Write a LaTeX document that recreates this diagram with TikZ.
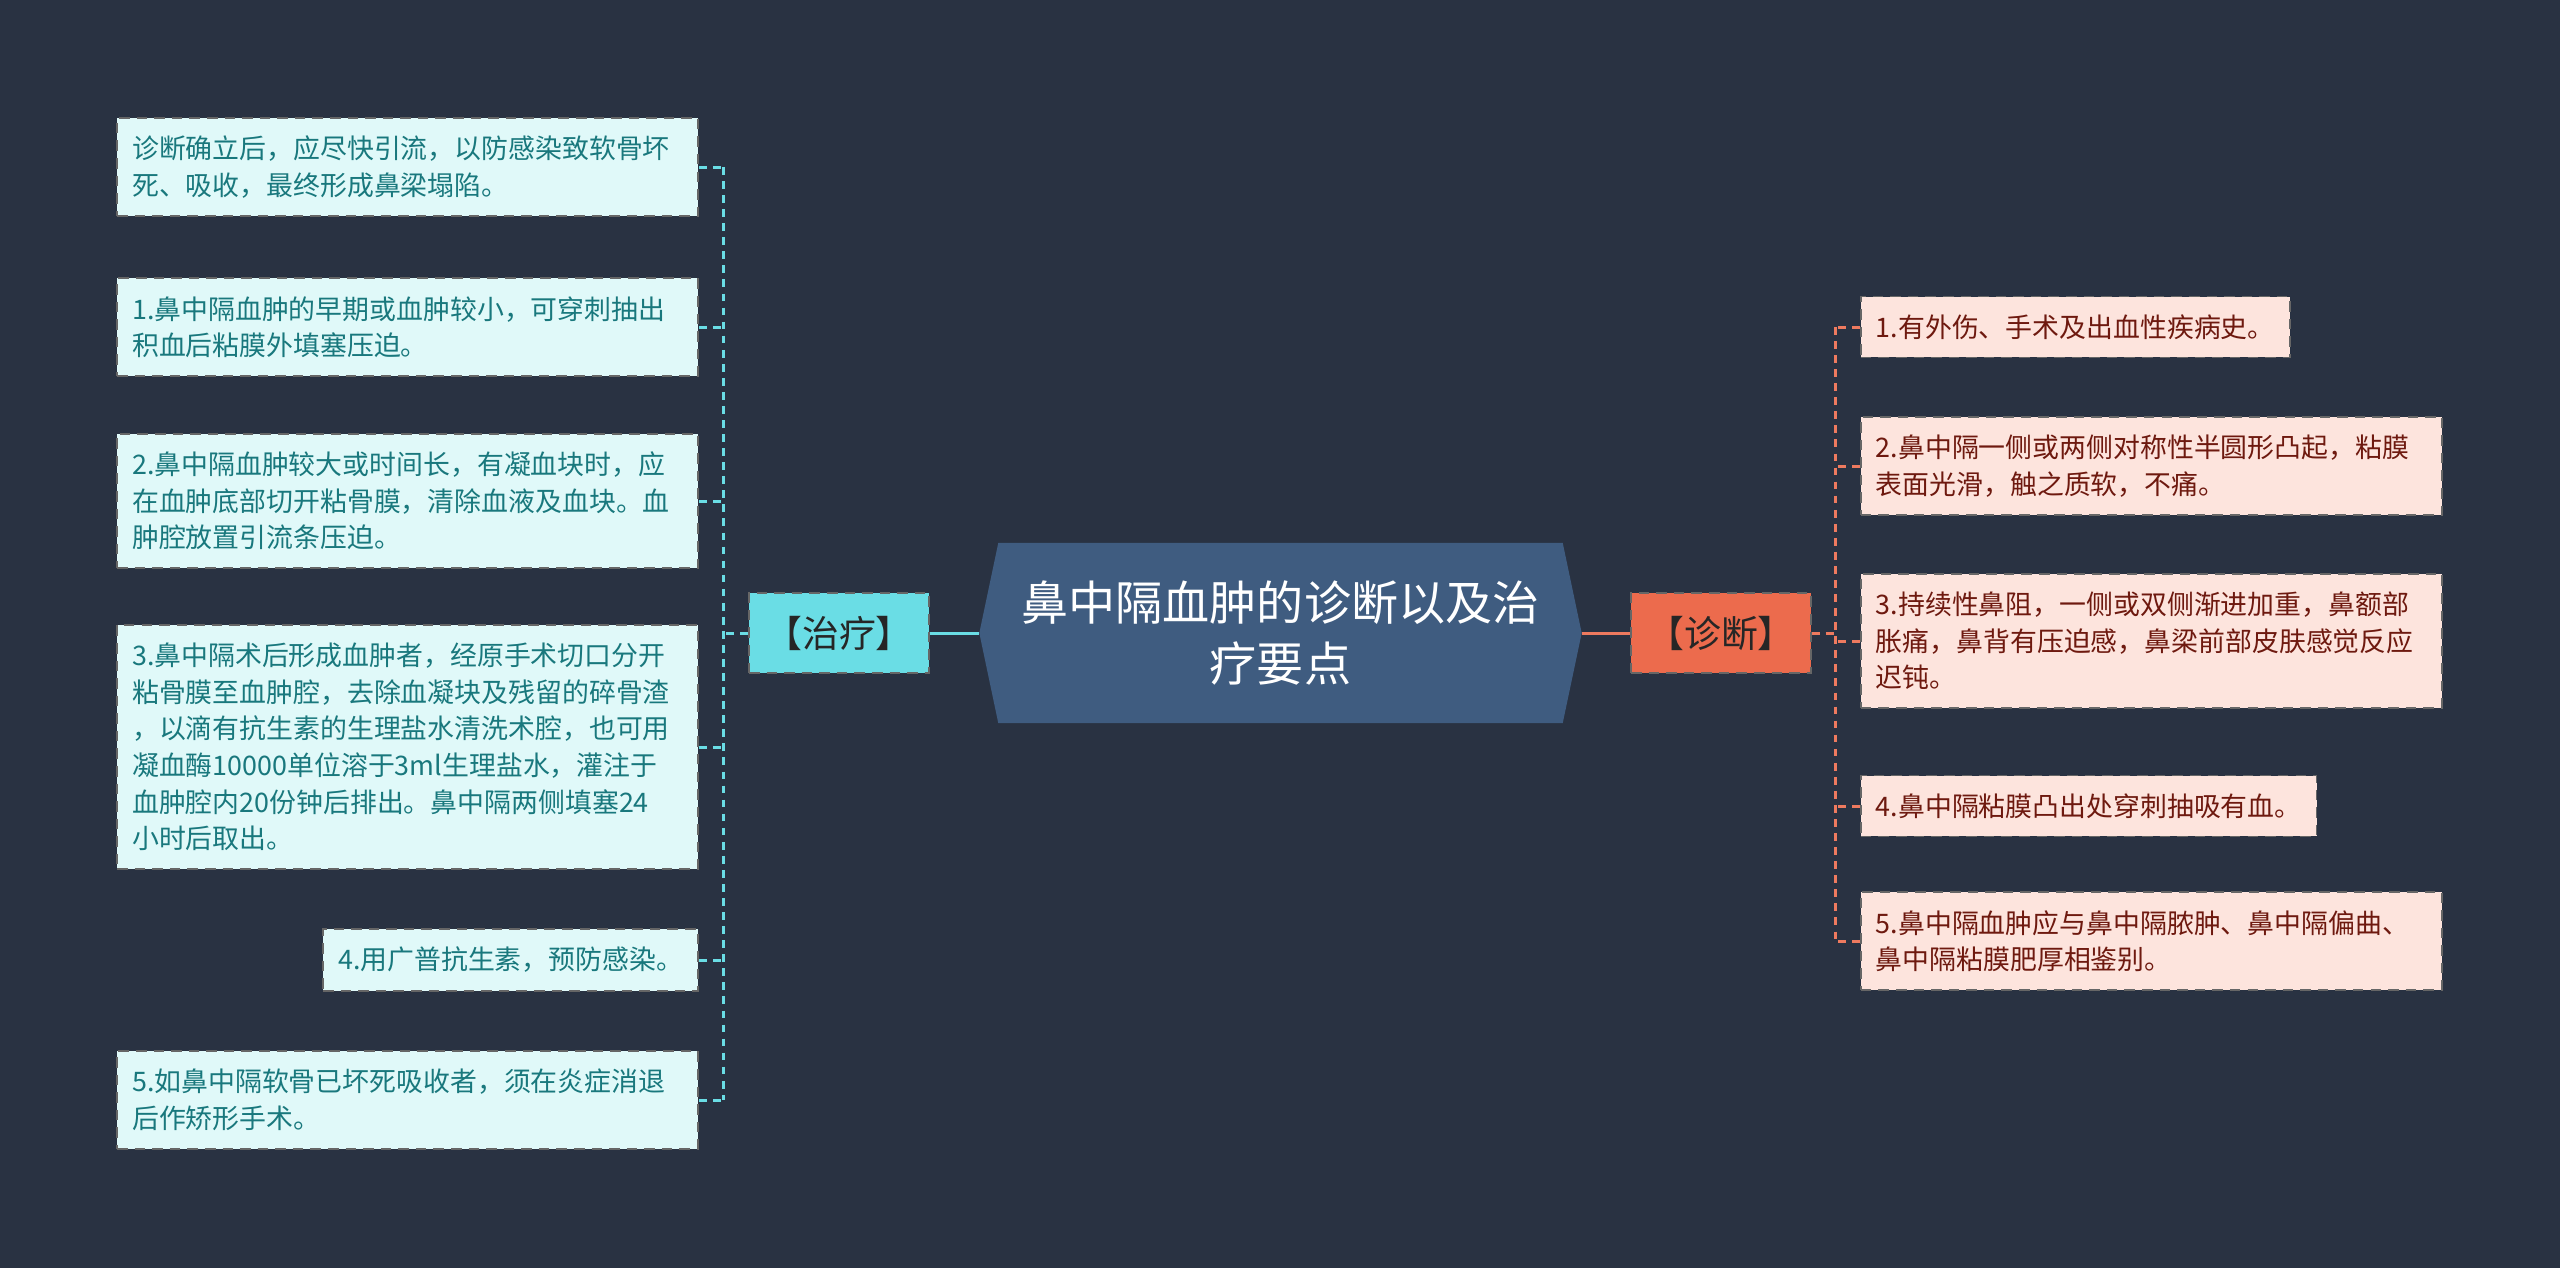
\documentclass[tikz,border=0pt]{standalone}
\usepackage{fontspec}
\usepackage{tikz}
\usetikzlibrary{calc,positioning,backgrounds}
\newfontfamily\cjk{Noto Sans CJK SC}
\definecolor{bgcol}{RGB}{41,50,66}
\definecolor{hubcol}{RGB}{63,92,128}
\definecolor{curecol}{RGB}{106,221,229}
\definecolor{curelight}{RGB}{224,249,249}
\definecolor{curetext}{RGB}{25,120,125}
\definecolor{diagcol}{RGB}{236,107,77}
\definecolor{diaglight}{RGB}{253,228,221}
\definecolor{diagtext}{RGB}{110,25,15}
\tikzset{
  hub/.style     ={rectangle, text=white, align=center,
                   minimum width=56.3mm, minimum height=17.9mm,
                   font=\cjk\fontsize{13.4}{17.6}\selectfont},
  branch/.style  ={rectangle, draw=black!60, densely dashed, line width=0.5pt,
                   minimum width=18mm, minimum height=8mm, text=black!85,
                   font=\cjk\fontsize{10.5}{12}\selectfont},
  cure/.style    ={branch, fill=curecol},
  diag/.style    ={branch, fill=diagcol},
  leaf/.style    ={rectangle, draw=black!60, densely dashed, line width=0.5pt,
                   align=left, inner xsep=1.5mm, inner ysep=1.8mm,
                   font=\cjk\fontsize{7.65}{10.4}\selectfont},
  wide/.style    ={text width=55.1mm},
  cureleaf/.style={leaf, fill=curelight, text=curetext, anchor=east},
  diagleaf/.style={leaf, fill=diaglight, text=diagtext, anchor=west},
  cureline/.style={draw=curecol, line width=0.85pt},
  diagline/.style={draw=diagcol!90!white, line width=0.85pt},
  curetick/.style={cureline, dash pattern=on 2.2pt off 1.8pt},
  diagtick/.style={diagline, dash pattern=on 2.2pt off 1.8pt},
}
\begin{document}
\begin{tikzpicture}[x=0.1mm, y=-0.1mm]
    \useasboundingbox (0,0) rectangle (2560,1268);

    % centre
    \node[hub] (hub) at (1280.5,633) {鼻中隔血肿的诊断以及治\\疗要点};
    \coordinate (hubL) at ($(hub.west)+(-19,0)$);
    \coordinate (hubR) at ($(hub.east)+(19,0)$);
    \begin{scope}[on background layer]
      \fill[bgcol] (0,0) rectangle (2560,1268);
      \fill[hubcol] (hub.north west) -- (hubL) -- (hub.south west)
        -- (hub.south east) -- (hubR) -- (hub.north east) -- cycle;
    \end{scope}

    % branches
    \node[cure] (cure) at (839,633) {【治疗】};
    \node[diag] (diag) at (1721,633) {【诊断】};
    \coordinate (spineL) at (723,633);
    \coordinate (spineR) at (1835,633);

    % left leaves
    \node[cureleaf, wide] (l0) at (699,167) {诊断确立后，应尽快引流，以防感染致软骨坏\\死、吸收，最终形成鼻梁塌陷。};
    \node[cureleaf, wide] (l1) at (699,327) {1.鼻中隔血肿的早期或血肿较小，可穿刺抽出\\积血后粘膜外填塞压迫。};
    \node[cureleaf, wide] (l2) at (699,501) {2.鼻中隔血肿较大或时间长，有凝血块时，应\\在血肿底部切开粘骨膜，清除血液及血块。血\\肿腔放置引流条压迫。};
    \node[cureleaf, wide] (l3) at (699,747) {3.鼻中隔术后形成血肿者，经原手术切口分开\\粘骨膜至血肿腔，去除血凝块及残留的碎骨渣\\，以滴有抗生素的生理盐水清洗术腔，也可用\\凝血酶10000单位溶于3ml生理盐水，灌注于\\血肿腔内20份钟后排出。鼻中隔两侧填塞24\\小时后取出。};
    \node[cureleaf] (l4) at (699,960) {4.用广普抗生素，预防感染。};
    \node[cureleaf, wide] (l5) at (699,1100) {5.如鼻中隔软骨已坏死吸收者，须在炎症消退\\后作矫形手术。};

    % right leaves
    \node[diagleaf] (r0) at (1860,327) {1.有外伤、手术及出血性疾病史。};
    \node[diagleaf, wide] (r1) at (1860,466) {2.鼻中隔一侧或两侧对称性半圆形凸起，粘膜\\表面光滑，触之质软，不痛。};
    \node[diagleaf, wide] (r2) at (1860,641) {3.持续性鼻阻，一侧或双侧渐进加重，鼻额部\\胀痛，鼻背有压迫感，鼻梁前部皮肤感觉反应\\迟钝。};
    \node[diagleaf] (r3) at (1860,806) {4.鼻中隔粘膜凸出处穿刺抽吸有血。};
    \node[diagleaf, wide] (r4) at (1860,941) {5.鼻中隔血肿应与鼻中隔脓肿、鼻中隔偏曲、\\鼻中隔粘膜肥厚相鉴别。};

    % links
    \draw[cureline] (cure.east) -- (hubL);
    \draw[diagline] (hubR) -- (diag.west);
    \draw[curetick] (cure.west) -- (spineL);
    \draw[diagtick] (diag.east) -- (spineR);
    \draw[curetick] (spineL |- l0.east) -- (spineL |- l5.east);
    \draw[diagtick] (spineR |- r0.west) -- (spineR |- r4.west);
    \foreach \n in {0,...,5}
      \draw[curetick] (l\n.east) -- (spineL |- l\n.east);
    \foreach \n in {0,...,4}
      \draw[diagtick] (r\n.west) -- (spineR |- r\n.west);
  \end{tikzpicture}
\end{document}
